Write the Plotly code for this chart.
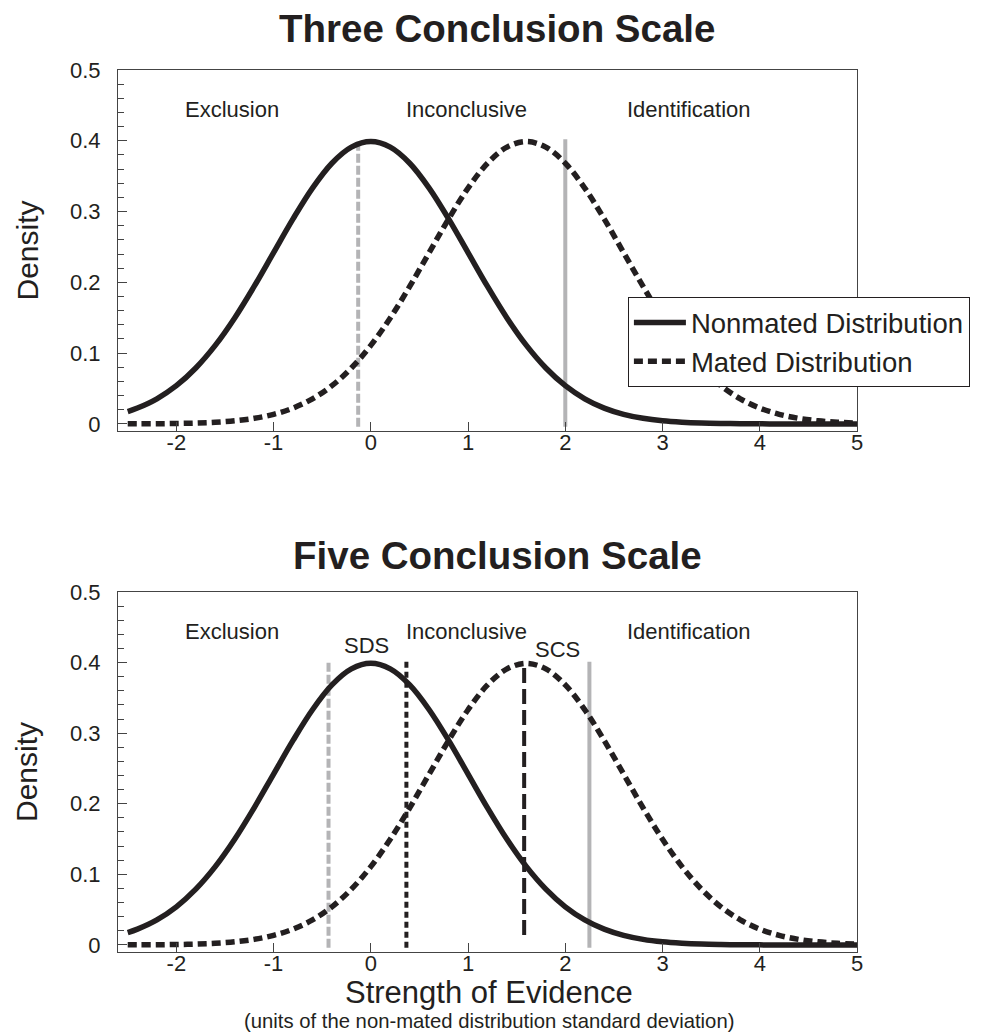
import plotly.graph_objects as go

# ---- data ----
x_vals = [-2.5, -2.4, -2.2, -2.0, -1.8, -1.6, -1.4, -1.2, -1.0, -0.8, -0.6, -0.4, -0.2,
          0.0, 0.2, 0.4, 0.6, 0.8, 1.0, 1.2, 1.4, 1.6, 1.8, 2.0, 2.2, 2.4, 2.6, 2.8,
          3.0, 3.2, 3.4, 3.6, 3.8, 4.0, 4.2, 4.4, 4.6, 4.8, 5.0]
nonmated = [0.0175, 0.0224, 0.0355, 0.0540, 0.0790, 0.1109, 0.1497, 0.1942, 0.2420, 0.2897,
            0.3332, 0.3683, 0.3910, 0.3989, 0.3910, 0.3683, 0.3332, 0.2897, 0.2420, 0.1942,
            0.1497, 0.1109, 0.0790, 0.0540, 0.0355, 0.0224, 0.0136, 0.0079, 0.0044, 0.0024,
            0.0012, 0.0006, 0.0003, 0.0001, 0.0, 0.0, 0.0, 0.0, 0.0]
mated = [0.0001, 0.0001, 0.0003, 0.0006, 0.0012, 0.0024, 0.0044, 0.0079, 0.0136, 0.0224,
         0.0355, 0.0540, 0.0790, 0.1109, 0.1497, 0.1942, 0.2420, 0.2897, 0.3332, 0.3683,
         0.3910, 0.3989, 0.3910, 0.3683, 0.3332, 0.2897, 0.2420, 0.1942, 0.1497, 0.1109,
         0.0790, 0.0540, 0.0355, 0.0224, 0.0136, 0.0079, 0.0044, 0.0024, 0.0012]

series_names = ["Nonmated Distribution", "Mated Distribution"]
titles = ["Three Conclusion Scale", "Five Conclusion Scale"]
region_labels = ["Exclusion", "Inconclusive", "Identification"]
region_x = [-1.43, 0.98, 3.27]
region_y = 0.444
sub_labels = ["SDS", "SCS"]
sub_x = [-0.04, 1.92]
sub_y = [0.424, 0.419]

# thresholds: (x, y_bottom, y_top)
top_thresholds_x = [-0.13, 2.0]
top_thresholds_y0 = [-0.004, -0.004]
top_thresholds_y1 = [0.402, 0.402]
bot_thresholds_x = [-0.435, 0.366, 1.577, 2.248]
bot_thresholds_y0 = [-0.004, -0.004, 0.014, -0.004]
bot_thresholds_y1 = [0.401, 0.401, 0.399, 0.401]

x_ticks = [-2, -1, 0, 1, 2, 3, 4, 5]
x_ticktext = ["-2", "-1", "0", "1", "2", "3", "4", "5"]
y_ticks = [0, 0.1, 0.2, 0.3, 0.4, 0.5]
y_ticktext = ["0", "0.1", "0.2", "0.3", "0.4", "0.5"]

# ---- styles ----
INK = "#231f20"
GRAY = "#b4b4b6"
FONT = "Liberation Sans, Arial, sans-serif"
top_styles = [dict(color=GRAY, width=4, dash="9px,3px"), dict(color=GRAY, width=4, dash="solid")]
bot_styles = [dict(color=GRAY, width=4, dash="9px,3px"),
              dict(color=INK, width=4, dash="6px,4px"),
              dict(color=INK, width=4, dash="15px,6px"),
              dict(color=GRAY, width=4, dash="solid")]

fig = go.Figure()
for i, (xa, ya) in enumerate([("x", "y"), ("x2", "y2")]):
    fig.add_trace(go.Scatter(x=x_vals, y=nonmated, mode="lines", name=series_names[0],
                             line=dict(color=INK, width=5.5, shape="spline"),
                             xaxis=xa, yaxis=ya, showlegend=(i == 0)))
    fig.add_trace(go.Scatter(x=x_vals, y=mated, mode="lines", name=series_names[1],
                             line=dict(color=INK, width=5.5, dash="9px,5px", shape="spline"),
                             xaxis=xa, yaxis=ya, showlegend=(i == 0)))

shapes = []
for xv, y0, y1, st in zip(top_thresholds_x, top_thresholds_y0, top_thresholds_y1, top_styles):
    shapes.append(dict(type="line", xref="x", yref="y", x0=xv, x1=xv, y0=y0, y1=y1,
                       line=st, layer="below"))
for xv, y0, y1, st in zip(bot_thresholds_x, bot_thresholds_y0, bot_thresholds_y1, bot_styles):
    shapes.append(dict(type="line", xref="x2", yref="y2", x0=xv, x1=xv, y0=y0, y1=y1,
                       line=st, layer="below"))

annotations = []
title_y = [1.0476, 0.4501]
domains = [[0.5907, 1.0], [0.0, 0.4082]]
for i, t in enumerate(titles):
    annotations.append(dict(text="<b>%s</b>" % t, xref="paper", yref="paper", x=0.513, y=title_y[i],
                            xanchor="center", yanchor="middle", showarrow=False,
                            font=dict(size=38.5, color=INK, family=FONT)))
    annotations.append(dict(text="Density", xref="paper", yref="paper", x=-0.1231,
                            y=sum(domains[i]) / 2, textangle=-90, xanchor="center", yanchor="middle",
                            showarrow=False, font=dict(size=30, color=INK, family=FONT)))
for i, (xa, ya) in enumerate([("x", "y"), ("x2", "y2")]):
    for lab, xv in zip(region_labels, region_x):
        annotations.append(dict(text=lab, xref=xa, yref=ya, x=xv, y=region_y, showarrow=False,
                                xanchor="center", yanchor="middle",
                                font=dict(size=22, color=INK, family=FONT)))
for lab, xv, yv in zip(sub_labels, sub_x, sub_y):
    annotations.append(dict(text=lab, xref="x2", yref="y2", x=xv, y=yv, showarrow=False,
                            xanchor="center", yanchor="middle",
                            font=dict(size=22, color=INK, family=FONT)))
annotations.append(dict(text="Strength of Evidence", xref="paper", yref="paper", x=0.502, y=-0.0454,
                        xanchor="center", yanchor="middle", showarrow=False,
                        font=dict(size=31, color=INK, family=FONT)))
annotations.append(dict(text="(units of the non-mated distribution standard deviation)",
                        xref="paper", yref="paper", x=0.502, y=-0.0784,
                        xanchor="center", yanchor="middle", showarrow=False,
                        font=dict(size=20.3, color=INK, family=FONT)))

xaxis_common = dict(range=[-2.6, 5.0], tickvals=x_ticks, ticktext=x_ticktext, ticks="inside",
                    ticklen=9, tickwidth=1,
                    tickcolor="#444", showline=True, linecolor="#444", linewidth=1, mirror=True,
                    showgrid=False, zeroline=False, ticklabelstandoff=-8,
                    tickfont=dict(size=22, color=INK, family=FONT))
yaxis_common = dict(range=[-0.01, 0.5], tickvals=y_ticks, ticktext=y_ticktext, ticks="inside",
                    ticklen=9, tickwidth=1, tickcolor="#444", showline=True, linecolor="#444",
                    linewidth=1, mirror=True, showgrid=False, zeroline=False,
                    ticklabelstandoff=12,
                    minor=dict(dtick=0.02, tick0=0, ticks="inside", ticklen=6, tickcolor="#444",
                               showgrid=False),
                    tickfont=dict(size=22, color=INK, family=FONT))

fig.update_layout(
    width=977, height=1026,
    margin=dict(l=110, r=128, t=62, b=82, autoexpand=False),
    paper_bgcolor="white", plot_bgcolor="white",
    font=dict(family=FONT, color=INK),
    xaxis=dict(domain=[0, 1], anchor="y", **xaxis_common),
    yaxis=dict(domain=domains[0], anchor="x", **yaxis_common),
    xaxis2=dict(domain=[0, 1], anchor="y2", **xaxis_common),
    yaxis2=dict(domain=domains[1], anchor="x2", **yaxis_common),
    shapes=shapes,
    annotations=annotations,
    legend=dict(x=0.690, y=0.7426, xanchor="left", yanchor="top",
                bgcolor="white", bordercolor="#231f20", borderwidth=1,
                font=dict(size=27.5, color=INK, family=FONT), itemwidth=52,
                tracegroupgap=0),
    showlegend=True,
)

fig.write_html("out.html")
